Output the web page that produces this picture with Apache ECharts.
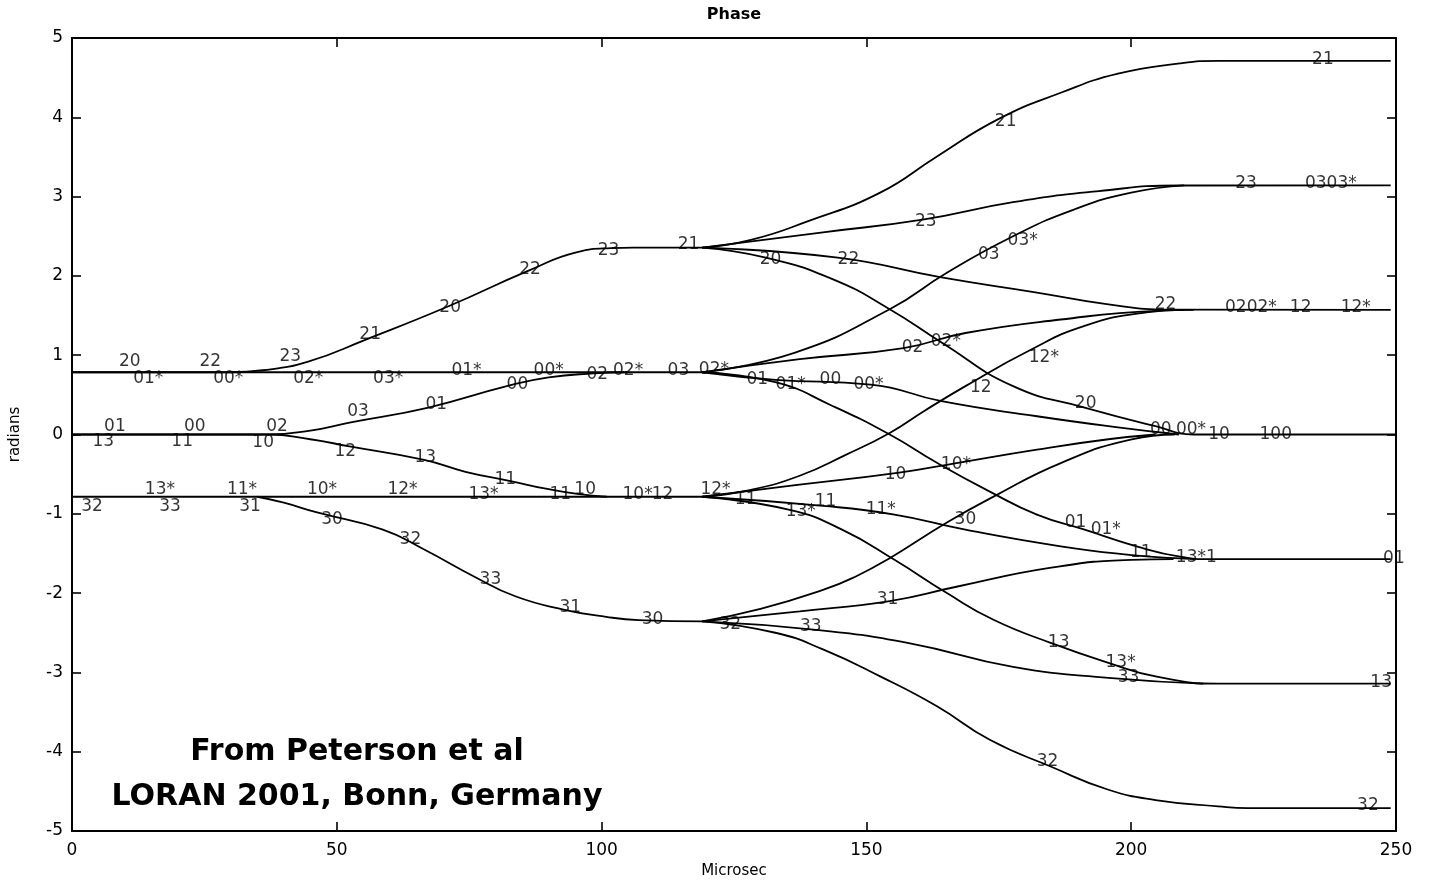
<!DOCTYPE html>
<html>
<head>
<meta charset="utf-8">
<script src="https://cdn.jsdelivr.net/npm/echarts@6/dist/echarts.min.js"></script>
<style>
html,body{margin:0;padding:0;background:#fff;}
#phaseChart{width:1431px;height:880px;}
</style>
</head>
<body>
<div id="phaseChart"></div>
<script>
// axis ticks
var xTicks = [0, 50, 100, 150, 200, 250];
var yTicks = [-5, -4, -3, -2, -1, 0, 1, 2, 3, 4, 5];

// stage 1 (0 - 119 microsec)
var flatPlus = [[0, 0.785], [119, 0.785]];
var flatMinus = [[0, -0.785], [119, -0.785]];
var up20 = [[0, 0.785], [30, 0.785], [36, 0.81], [44.6, 0.92], [55.6, 1.20], [71.2, 1.62], [86, 2.06], [95.4, 2.30], [101.7, 2.35], [106, 2.356], [119, 2.356]];
var zeroUp = [[0, 0], [37, 0], [45, 0.05], [52.4, 0.15], [67.3, 0.34], [82.1, 0.61], [90, 0.72], [98.5, 0.77], [105, 0.785]];
var zeroDown = [[0, 0], [37, 0], [45, -0.06], [52.4, -0.15], [66.5, -0.32], [74.3, -0.47], [83, -0.59], [89.2, -0.68], [95.4, -0.75], [101, -0.785]];
var down30 = [[35, -0.785], [40, -0.86], [46.1, -0.98], [58.7, -1.20], [66.5, -1.45], [75.9, -1.79], [83.7, -2.04], [93, -2.21], [100.9, -2.30], [107, -2.34], [119, -2.356]];

// stage 2 (119 - 250 microsec)
var c21 = [[119, 2.356], [128, 2.45], [139, 2.69], [152.6, 3.05], [163.4, 3.51], [175, 3.98], [186.7, 4.31], [197.5, 4.55], [209.2, 4.68], [216.4, 4.712], [249, 4.712]];
var c23 = [[119, 2.356], [141.8, 2.55], [160.6, 2.71], [177.7, 2.93], [193.9, 3.07], [209, 3.14], [249, 3.142]];
var c22 = [[119, 2.356], [144.6, 2.23], [164.2, 1.98], [182.2, 1.79], [195.7, 1.64], [207.3, 1.575], [249, 1.571]];
var c20 = [[119, 2.356], [131, 2.23], [143.6, 1.96], [154.4, 1.58], [164.2, 1.16], [177.7, 0.61], [191.2, 0.34], [204.6, 0.105], [211.8, 0], [250, 0]];
var c03 = [[119, 0.785], [136.4, 1.03], [154.4, 1.58], [165.2, 2.04], [177.7, 2.50], [189.3, 2.84], [200, 3.05], [210, 3.142]];
var c02 = [[119, 0.785], [137.4, 0.95], [157, 1.09], [168.7, 1.28], [186.7, 1.45], [204.6, 1.56], [211.8, 1.571]];
var c00 = [[119, 0.785], [132.8, 0.69], [150.8, 0.63], [164.2, 0.42], [182.2, 0.23], [197.5, 0.09], [209, 0]];
var c01 = [[119, 0.785], [132.8, 0.66], [143.6, 0.36], [154.4, 0.0], [163.4, -0.36], [173.3, -0.72], [182.2, -1.01], [191.2, -1.20], [201, -1.41], [209.2, -1.54], [215, -1.571], [249, -1.571]];
var c12 = [[119, -0.785], [128, -0.70], [137.4, -0.52], [146, -0.26], [154.4, 0.02], [161, 0.30], [168.7, 0.61], [180.5, 1.05], [191.2, 1.37], [202.9, 1.54], [210, 1.571]];
var c10 = [[119, -0.785], [132.8, -0.67], [156.2, -0.48], [167, -0.36], [182.2, -0.19], [195.7, -0.06], [204.6, 0]];
var c11 = [[119, -0.785], [141.8, -0.90], [155.3, -1.01], [168.7, -1.20], [186.7, -1.41], [200.1, -1.52], [208.2, -1.56], [212, -1.571]];
var c13 = [[119, -0.785], [135.5, -0.95], [145.4, -1.20], [155.3, -1.58], [165.2, -2.0], [174.1, -2.34], [184.9, -2.63], [195.7, -2.88], [204.6, -3.05], [216.4, -3.142], [249, -3.142]];
var c30 = [[119, -2.356], [130, -2.20], [141.8, -1.96], [148, -1.79], [154.4, -1.56], [165.2, -1.11], [174.1, -0.78], [186.7, -0.36], [200.1, -0.06], [208.2, 0]];
var c31 = [[119, -2.356], [137.4, -2.23], [154.4, -2.10], [167, -1.92], [184.9, -1.68], [200, -1.58], [208, -1.571]];
var c33 = [[119, -2.356], [140, -2.46], [158, -2.63], [177.7, -2.93], [195.7, -3.07], [213.6, -3.142]];
var c32 = [[119, -2.356], [132.8, -2.50], [141.8, -2.71], [152.6, -3.05], [163.4, -3.43], [173.3, -3.85], [184.9, -4.19], [195.7, -4.48], [204.6, -4.61], [216.4, -4.69], [222, -4.712], [249, -4.712]];

// state labels along the curves: x, y, text
var labelX = [10.9, 14.4, 26.1, 29.5, 41.2, 44.6, 59.7, 74.5, 90, 99.2, 105, 114.5, 121.2,
  56.3, 71.4, 86.5, 101.3, 116.4,
  8.1, 23.2, 38.7, 5.9, 20.8, 36.1,
  54, 68.8, 84.1,
  51.6, 66.7, 81.8, 92.2, 96.9, 106.8, 111.5,
  16.6, 32.1, 47.2, 62.4, 77.7,
  3.8, 18.5, 33.6, 49.1, 63.9, 79, 94.1, 109.6,
  176.3, 161.2, 131.9, 146.6, 173.1, 179.5, 158.7, 165, 183.5, 171.6, 191.4,
  129.4, 135.7, 143.2, 150.4, 205.6, 211.3, 216.6, 227.3,
  206.5, 222.6, 232, 242.4, 221.7, 237.7, 236.2,
  155.5, 166.9, 121.5, 127.2, 137.6, 142.3, 152.7, 168.7, 189.5, 195.2, 201.8, 212.3,
  249.6, 154, 139.5, 124.3, 186.3, 198, 199.5, 247.2, 184.2, 244.7];
var labelY = [0.92, 0.71, 0.92, 0.71, 0.98, 0.71, 0.71, 0.80, 0.80, 0.76, 0.80, 0.80, 0.82,
  1.26, 1.60, 2.08, 2.32, 2.40,
  0.10, 0.10, 0.10, -0.09, -0.09, -0.10,
  0.29, 0.38, 0.63,
  -0.21, -0.29, -0.57, -0.76, -0.69, -0.76, -0.76,
  -0.69, -0.69, -0.69, -0.69, -0.76,
  -0.91, -0.91, -0.91, -1.07, -1.33, -1.83, -2.18, -2.34,
  3.94, 2.69, 2.21, 2.21, 2.27, 2.44, 1.10, 1.17, 0.97, 0.59, 0.39,
  0.69, 0.63, 0.69, 0.63, 0.06, 0.06, 0, 0,
  1.64, 1.60, 1.60, 1.60, 3.16, 3.16, 4.73,
  -0.51, -0.38, -0.69, -0.82, -0.97, -0.85, -0.95, -1.07, -1.11, -1.20, -1.49, -1.55,
  -1.57, -2.08, -2.42, -2.40, -2.63, -2.87, -3.06, -3.13, -4.13, -4.68];
var labelText = ['20', '01*', '22', '00*', '23', '02*', '03*', '01*', '00*', '02', '02*', '03', '02*',
  '21', '20', '22', '23', '21',
  '01', '00', '02', '13', '11', '10',
  '03', '01', '00',
  '12', '13', '11', '11', '10', '10*', '12',
  '13*', '11*', '10*', '12*', '13*',
  '32', '33', '31', '30', '32', '33', '31', '30',
  '21', '23', '20', '22', '03', '03*', '02', '02*', '12*', '12', '20',
  '01', '01*', '00', '00*', '00', '00*', '10', '100',
  '22', '0202*', '12', '12*', '23', '0303*', '21',
  '10', '10*', '12*', '11', '13*', '11', '11*', '30', '01', '01*', '11', '13*1',
  '01', '31', '33', '32', '13', '13*', '33', '13', '32', '32'];

var noteLines = ['From Peterson et al', 'LORAN 2001, Bonn, Germany'];

var curves = [flatPlus, flatMinus, up20, zeroUp, zeroDown, down30,
  c21, c23, c22, c20, c03, c02, c00, c01, c12, c10, c11, c13, c30, c31, c33, c32];

var fontName = '"DejaVu Sans", "Liberation Sans", Arial, sans-serif';

function buildSeries() {
    var list = [];
    for (var i = 0; i < curves.length; i++) {
        list.push({
            type: 'line',
            data: curves[i],
            symbol: 'none',
            smooth: 0.5,
            silent: true,
            lineStyle: {color: '#000', width: 1.8},
            z: 2
        });
    }
    var pts = [];
    for (var k = 0; k < labelText.length; k++) {
        pts.push({value: [labelX[k], labelY[k]], name: labelText[k]});
    }
    list.push({
        type: 'scatter',
        data: pts,
        symbolSize: 1,
        itemStyle: {color: 'rgba(0,0,0,0)'},
        silent: true,
        z: 3,
        label: {
            show: true,
            position: 'inside',
            formatter: '{b}',
            color: '#000',
            fontSize: 17,
            fontFamily: fontName
        }
    });
    return list;
}

var chart = echarts.init(document.getElementById('phaseChart'));
var tickStyle = {show: true, inside: true, length: 9, lineStyle: {color: '#000', width: 1.6}};
var lineAxis = {show: true, onZero: false, lineStyle: {color: '#000', width: 2}};
chart.setOption({
    animation: false,
    backgroundColor: '#fff',
    grid: {left: 72, right: 35, top: 38, bottom: 49, containLabel: false, outerBoundsMode: 'none'},
    xAxis: [{
        type: 'value', min: xTicks[0], max: xTicks[xTicks.length - 1], interval: 50,
        name: 'Microsec', nameLocation: 'middle', nameGap: 33,
        nameTextStyle: {color: '#000', fontSize: 15, fontFamily: fontName},
        axisLine: lineAxis, axisTick: tickStyle, splitLine: {show: false},
        axisLabel: {color: '#000', fontSize: 17, margin: 11, fontFamily: fontName}
    }, {
        type: 'value', position: 'top', min: 0, max: 250, interval: 50,
        axisLine: lineAxis, axisTick: tickStyle, splitLine: {show: false},
        axisLabel: {show: false}
    }],
    yAxis: [{
        type: 'value', min: yTicks[0], max: yTicks[yTicks.length - 1], interval: 1,
        name: 'radians', nameLocation: 'middle', nameGap: 49,
        nameTextStyle: {color: '#000', fontSize: 15, fontFamily: fontName},
        axisLine: lineAxis, axisTick: tickStyle, splitLine: {show: false},
        axisLabel: {color: '#000', fontSize: 17, margin: 9, fontFamily: fontName}
    }, {
        type: 'value', position: 'right', min: -5, max: 5, interval: 1,
        axisLine: lineAxis, axisTick: tickStyle, splitLine: {show: false},
        axisLabel: {show: false}
    }],
    graphic: [{
        type: 'text', x: 734, y: 15,
        style: {text: 'Phase', fill: '#000', font: 'bold 16px ' + fontName, textAlign: 'center', textVerticalAlign: 'middle'}
    }, {
        type: 'text', x: 357, y: 752,
        style: {text: noteLines[0], fill: '#000', font: 'bold 30px ' + fontName, textAlign: 'center', textVerticalAlign: 'middle'}
    }, {
        type: 'text', x: 357, y: 797,
        style: {text: noteLines[1], fill: '#000', font: 'bold 30px ' + fontName, textAlign: 'center', textVerticalAlign: 'middle'}
    }],
    series: buildSeries()
});
</script>
</body>
</html>
